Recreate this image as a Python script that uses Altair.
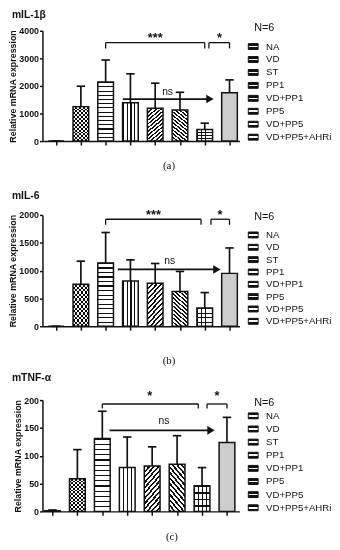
import altair as alt
import pandas as pd

# ---------------- data ----------------
groups = ["NA", "VD", "ST", "PP1", "VD+PP1", "PP5", "VD+PP5", "VD+PP5+AHRi"]

il1b_mean = [0, 1250, 2140, 1390, 1190, 1130, 420, 1750]
il1b_sd = [0, 740, 800, 1050, 910, 640, 230, 470]
il6_mean = [0, 754, 1139, 813, 771, 623, 326, 950]
il6_sd = [0, 415, 546, 380, 357, 362, 279, 457]
tnf_mean = [1, 58.6, 130.8, 78.7, 81.7, 84.6, 46.2, 124]
tnf_sd = [1.5, 52.4, 49.2, 55, 34.3, 51.4, 32.5, 45]

titles = ["mIL-1β", "mIL-6", "mTNF-α"]
captions = ["(a)", "(b)", "(c)"]
y_max = [4000, 2000, 200]
y_step = [1000, 500, 50]

# significance brackets (in group-index units on x, data units on y)
brk_left = [[2, 6.17], [2, 6.25], [2, 6.2]]
brk_right = [[6, 7], [5.85, 7], [5.85, 7]]
brk_y = [3570, 1923, 193]
brk_drop = [3360, 1822, 185]
brk_text = [["***", "*"], ["***", "*"], ["*", "*"]]
brk_text_x = [[4.0, 6.6], [3.93, 6.62], [3.9, 6.6]]
brk_text_y = [3750, 2000, 208]
arrow_from = [2.69, 2.49, 2.29]
arrow_to = [6.21, 6.49, 6.36]
arrow_y = [1525, 1021, 145.6]
ns_x = [4.5, 4.59, 4.47]
ns_y = [1790, 1169, 161.5]

means = [il1b_mean, il6_mean, tnf_mean]
sds = [il1b_sd, il6_sd, tnf_sd]

# ---------------- styling ----------------
FONT = "Liberation Sans"
INK = "#111111"
CLEAR = "rgba(0,0,0,0)"
panel_h = [112, 113, 113]
x_domains = [[-0.55, 7.4], [-0.55, 7.4], [-0.4, 7.5]]
caption_x = [128, 128, 131]
caption_dy = [25, 35, 26]
title_dy = [-16, -19, -22]
legend_range = [[16, 108], [20.3, 108], [16, 109.3]]
legend_title_y = [-3, 2, 2.7]


def stripes(n, duty, ink, paper, x1=0, y1=0, x2=0, y2=1):
    stops = []
    for k in range(n):
        a = round(k / n, 4)
        b = round((k + duty) / n, 4)
        c = round((k + 1) / n, 4)
        stops += [
            {"offset": a, "color": ink},
            {"offset": b, "color": ink},
            {"offset": b, "color": paper},
            {"offset": c, "color": paper},
        ]
    return {"gradient": "linear", "x1": x1, "y1": y1, "x2": x2, "y2": y2, "stops": stops}


base_fill = {
    "NA": stripes(3, 0.6, INK, "white"),
    "VD": stripes(9, 0.5, INK, "white"),
    "ST": stripes(14, 0.25, INK, "white"),
    "PP1": stripes(4, 0.28, INK, "white", x2=1, y2=0),
    "VD+PP1": stripes(12, 0.45, INK, "white", x1=0, y1=0, x2=0.48, y2=1.2),
    "PP5": stripes(12, 0.45, INK, "white", x1=0, y1=1, x2=0.48, y2=-0.2),
    "VD+PP5": stripes(4, 0.25, INK, "white"),
    "VD+PP5+AHRi": "#cdcdcd",
}
grid_overlay = {"VD+PP5": stripes(4, 0.2, INK, CLEAR, x2=1, y2=0)}
checker_overlay = {"VD": stripes(4, 0.5, "white", CLEAR, x2=1, y2=0)}
legend_grad = {
    "gradient": "linear", "x1": 0, "y1": 0, "x2": 0, "y2": 1,
    "stops": [
        {"offset": 0, "color": INK}, {"offset": 0.36, "color": INK},
        {"offset": 0.36, "color": "white"}, {"offset": 0.64, "color": "white"},
        {"offset": 0.64, "color": INK}, {"offset": 1, "color": INK},
    ],
}


def fill_by_group(mapping, default):
    conds = [
        {"test": f"datum.group === '{g}'", "value": v} for g, v in mapping.items()
    ]
    return alt.FillValue(value=default, condition=conds)


def panel(i):
    df = pd.DataFrame({"group": groups, "idx": list(range(len(groups))),
                       "mean": means[i], "sd": sds[i]})
    xscale = alt.Scale(domain=x_domains[i], nice=False, zero=False)
    yscale = alt.Scale(domain=[0, y_max[i]], nice=False)
    xaxis = alt.Axis(values=list(range(len(groups))), labels=False, grid=False,
                     tickSize=4, tickWidth=1.5, tickColor=INK, domainWidth=1.5,
                     domainColor=INK, title=captions[i], titleFont="Liberation Serif",
                     titleFontSize=11, titleFontWeight="normal", titleColor=INK,
                     titleX=caption_x[i], titleY=caption_dy[i], titleAlign="center",
                     titleBaseline="middle")
    yaxis = alt.Axis(values=list(range(0, y_max[i] + 1, y_step[i])), grid=False,
                     format="d", tickSize=3, tickWidth=1.5, tickColor=INK,
                     domainWidth=1.5, domainColor=INK, labelFont=FONT,
                     labelFontSize=9, labelFontWeight="bold", labelColor=INK,
                     labelPadding=1, title="Relative mRNA expression",
                     titleFont=FONT, titleFontSize=9, titleFontWeight="bold",
                     titleColor=INK, titlePadding=1)

    def X(f):
        return alt.X(f, type="quantitative", scale=xscale, axis=xaxis)

    def Y(f):
        return alt.Y(f, type="quantitative", scale=yscale, axis=yaxis)

    base = alt.Chart(df).transform_calculate(
        lo="datum.idx - 0.316", hi="datum.idx + 0.316",
        clo="datum.idx - 0.17", chi="datum.idx + 0.17",
        top="datum.mean + datum.sd", zero="0")

    bars = base.mark_rect(strokeWidth=0).encode(
        x=X("lo"), x2="hi:Q", y=Y("mean"), y2="zero:Q",
        fill=fill_by_group(base_fill, "white"))
    grid_l = base.mark_rect(strokeWidth=0).encode(
        x=X("lo"), x2="hi:Q", y=Y("mean"), y2="zero:Q",
        fill=fill_by_group(grid_overlay, CLEAR))
    check_l = base.mark_rect(strokeWidth=0, blend="difference").encode(
        x=X("lo"), x2="hi:Q", y=Y("mean"), y2="zero:Q",
        fill=fill_by_group(checker_overlay, CLEAR))
    outline = base.mark_rect(fill=CLEAR, stroke=INK, strokeWidth=1.5).encode(
        x=X("lo"), x2="hi:Q", y=Y("mean"), y2="zero:Q")
    err = base.mark_rule(color=INK, strokeWidth=1.7).encode(
        x=X("idx"), y=Y("mean"), y2="top:Q")
    cap = base.mark_rule(color=INK, strokeWidth=1.7).encode(
        x=X("clo"), x2="chi:Q", y=Y("top"))

    bh = pd.DataFrame({"x1": brk_left[i], "x2": brk_right[i],
                       "y": [brk_y[i]] * 2})
    bv = pd.DataFrame({"x": brk_left[i] + brk_right[i], "y": [brk_y[i]] * 4,
                       "y2": [brk_drop[i]] * 4})
    bt = pd.DataFrame({"x": brk_text_x[i], "y": [brk_text_y[i]] * 2,
                       "t": brk_text[i]})
    ar = pd.DataFrame({"x1": [arrow_from[i]], "x2": [arrow_to[i]],
                       "y": [arrow_y[i]]})
    ns = pd.DataFrame({"x": [ns_x[i]], "y": [ns_y[i]], "t": ["ns"]})

    br_h = alt.Chart(bh).mark_rule(color=INK, strokeWidth=1.3).encode(
        x=X("x1"), x2="x2:Q", y=Y("y"))
    br_v = alt.Chart(bv).mark_rule(color=INK, strokeWidth=1.3).encode(
        x=X("x"), y=Y("y"), y2="y2:Q")
    br_t = alt.Chart(bt).mark_text(font=FONT, fontSize=13, fontWeight="bold",
                                   color=INK, baseline="middle").encode(
        x=X("x"), y=Y("y"), text="t:N")
    ar_l = alt.Chart(ar).mark_rule(color=INK, strokeWidth=1.7).encode(
        x=X("x1"), x2="x2:Q", y=Y("y"))
    ar_h = alt.Chart(ar).mark_point(shape="triangle-right", filled=True, size=75,
                                    color=INK, opacity=1).encode(
        x=X("x2"), y=Y("y"))
    ns_t = alt.Chart(ns).mark_text(font=FONT, fontSize=10.5, color=INK,
                                   baseline="middle").encode(
        x=X("x"), y=Y("y"), text="t:N")
    ttl = alt.Chart(pd.DataFrame({"t": [titles[i]]})).mark_text(
        align="left", baseline="middle", font=FONT, fontSize=10.5,
        fontWeight="bold", color=INK).encode(
        x=alt.value(-31), y=alt.value(title_dy[i]), text="t:N")

    main = alt.layer(bars, grid_l, check_l, outline, err, cap,
                     br_h, br_v, br_t, ar_l, ar_h, ns_t, ttl).properties(
        width=200, height=panel_h[i])

    ldf = pd.DataFrame({"group": groups})
    ly = alt.Y("group:N", sort=groups, axis=None,
               scale=alt.Scale(type="point", range=legend_range[i], padding=0))
    sym = alt.Chart(ldf).mark_point(
        shape="M-1,-0.6L1,-0.6L1,0.6L-1,0.6Z", size=100, filled=True,
        fill=legend_grad, stroke=INK, strokeWidth=1, opacity=1).encode(
        x=alt.value(5), y=ly)
    txt = alt.Chart(ldf).mark_text(align="left", baseline="middle", font=FONT,
                                   fontSize=9.8, color=INK).encode(
        x=alt.value(18), y=ly, text="group:N")
    ntx = alt.Chart(pd.DataFrame({"t": ["N=6"]})).mark_text(
        align="left", baseline="middle", font=FONT, fontSize=11,
        color=INK).encode(x=alt.value(6), y=alt.value(legend_title_y[i]),
                          text="t:N")
    legend = alt.layer(sym, txt, ntx).properties(width=80, height=panel_h[i])
    return main, legend


cells = []
for i in range(3):
    m, l = panel(i)
    cells += [m, l]

chart = alt.concat(*cells, columns=2, spacing={"row": 75, "column": 9},
                   bounds="flush").properties(
    padding={"left": 0, "top": -2, "right": 0, "bottom": 0}
).configure(font=FONT).configure_view(strokeWidth=0)

chart.save("out.html", embed_options={"renderer": "svg", "actions": False})
